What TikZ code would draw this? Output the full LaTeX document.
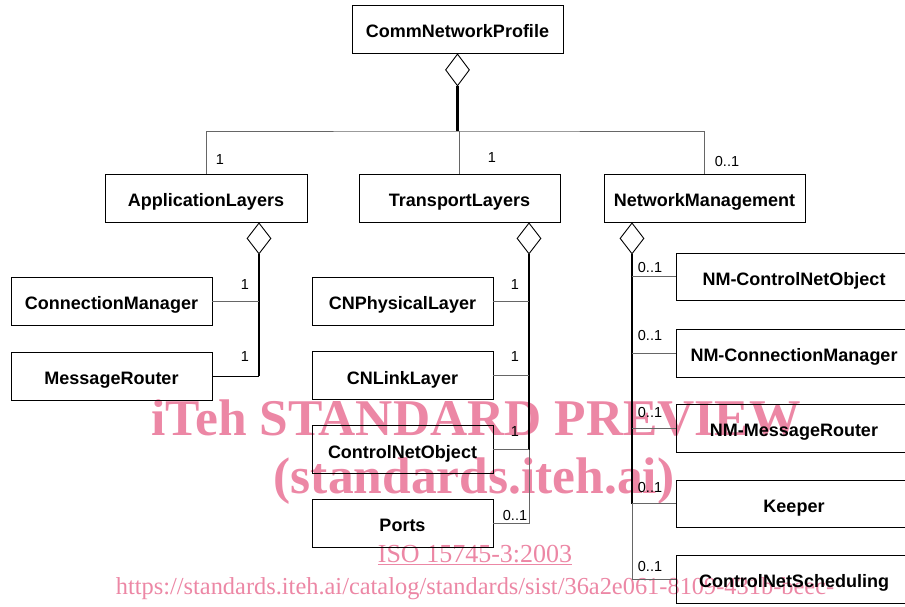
\documentclass[tikz,border=0pt]{standalone}
\usepackage{fontspec}
\setmainfont{Liberation Sans}
\newfontfamily\wmfont{Liberation Serif}
\usetikzlibrary{shapes.geometric}
\definecolor{wmpink}{RGB}{236,135,165}

\begin{document}
\begin{tikzpicture}[x=1pt,y=-1pt,
    cls/.style={draw=black,line width=0.9pt,minimum height=48pt,inner sep=0pt,text height=17pt,text depth=0pt,font=\fontsize{18}{21}\selectfont\bfseries},
    agg/.style={draw=black,line width=0.9pt,diamond,minimum width=24pt,minimum height=32pt,inner sep=0pt},
    lnk/.style={line width=0.9pt,black!60},
    spine/.style={line width=2.2pt,black},
    mult/.style={font=\fontsize{14.5}{16}\selectfont,inner sep=0pt},
    wm/.style={text=wmpink,inner sep=0pt,font=\wmfont\fontsize{51.5}{53}\selectfont\bfseries},
    wmsmall/.style={text=wmpink,inner sep=0pt,font=\wmfont\fontsize{26}{28}\selectfont}]
\useasboundingbox (0,0) rectangle (905,606);
\clip (0,0) rectangle (905,606);
% watermark
\node[wm] (wm1) at (476,418) {iTeh STANDARD PREVIEW};
\node[wm] (wm2) at (474,481) {(standards.iteh.ai)};
\node[wmsmall] (wm3) at (475,555) {\underline{ISO 15745-3:2003}};
\node[wmsmall,font=\wmfont\fontsize{24.4}{28}\selectfont] (wm4) at (475,589) {https://standards.iteh.ai/catalog/standards/sist/36a2e061-8109-431b-beec-};
% classes
\node[cls,minimum width=211pt] (prof) at (457.5,29) {CommNetworkProfile};
\node[cls,minimum width=202pt] (app) at (206,198) {ApplicationLayers};
\node[cls,minimum width=201pt] (trans) at (459.5,198) {TransportLayers};
\node[cls,minimum width=201pt] (netm) at (704.5,198) {NetworkManagement};
\node[cls,minimum width=201pt] (conn) at (111.5,301) {ConnectionManager};
\node[cls,minimum width=201pt] (msg) at (111.5,376) {MessageRouter};
\node[cls,minimum width=181pt] (phys) at (402.5,301) {CNPhysicalLayer};
\node[cls,minimum width=181pt] (link) at (402.5,375.5) {CNLinkLayer};
\node[cls,minimum width=181pt] (cno) at (402.5,449.5) {ControlNetObject};
\node[cls,minimum width=181pt] (ports) at (402.5,523) {Ports};
\node[cls,minimum width=236pt,minimum height=47pt] (nmcno) at (794,276.5) {NM-ControlNetObject};
\node[cls,minimum width=236pt] (nmcm) at (794,353) {NM-ConnectionManager};
\node[cls,minimum width=236pt] (nmmr) at (794,428) {NM-MessageRouter};
\node[cls,minimum width=236pt,minimum height=47pt] (keep) at (794,503.5) {Keeper};
\node[cls,minimum width=236pt] (sched) at (794,579) {ControlNetScheduling};
% aggregation diamonds
\node[agg,anchor=north] (dprof) at (prof.south) {};
\node[agg,anchor=north,minimum height=31pt] (dapp) at ([xshift=53pt]app.south) {};
\node[agg,anchor=north,minimum height=31pt] (dtrans) at ([xshift=69.5pt]trans.south) {};
\node[agg,anchor=north,minimum height=31pt] (dnetm) at ([xshift=-72.5pt]netm.south) {};
% top level
\coordinate (bus) at (457.5,131);
\draw[spine] (dprof.south) -- (bus);
\draw[lnk] (app.north) |- (bus) -| (netm.north);
\draw[lnk] (trans.north) -- (trans.north |- bus);
\node[mult] (m1) at (220,160) {1};
\node[mult] (m2) at (492,158) {1};
\node[mult] (m3) at (727,162) {0..1};
% application layers
\draw[spine] (dapp.south) -- (dapp.south |- msg.east);
\draw[lnk] (conn.east) -- (conn.east -| dapp.south);
\draw[lnk,black] (msg.east) -- (msg.east -| dapp.south);
\node[mult] (m4) at (245,285) {1};
\node[mult] (m5) at (245,357) {1};
% transport layers
\draw[spine] (dtrans.south) -- (dtrans.south |- cno.east);
\foreach \n in {phys,link,cno}
  \draw[lnk] (\n.east) -- (\n.east -| dtrans.south);
\draw[lnk] (cno.east -| dtrans.south) |- (ports.east);
\node[mult] (m6) at (515,285) {1};
\node[mult] (m7) at (515,357) {1};
\node[mult] (m8) at (515,432) {1};
\node[mult] (m9) at (515,515) {0..1};
% network management
\draw[spine] (dnetm.south) -- (dnetm.south |- keep.west);
\draw[lnk] (dnetm.south |- keep.west) -- (dnetm.south |- sched.west);
\foreach \n in {nmcno,nmcm,nmmr,keep,sched}
  \draw[lnk] (\n.west) -- (\n.west -| dnetm.south);
\node[mult] (m10) at (650,268) {0..1};
\node[mult] (m11) at (650,336) {0..1};
\node[mult] (m12) at (650,412) {0..1};
\node[mult] (m13) at (650,487) {0..1};
\node[mult] (m14) at (650,566) {0..1};
\end{tikzpicture}
\end{document}
